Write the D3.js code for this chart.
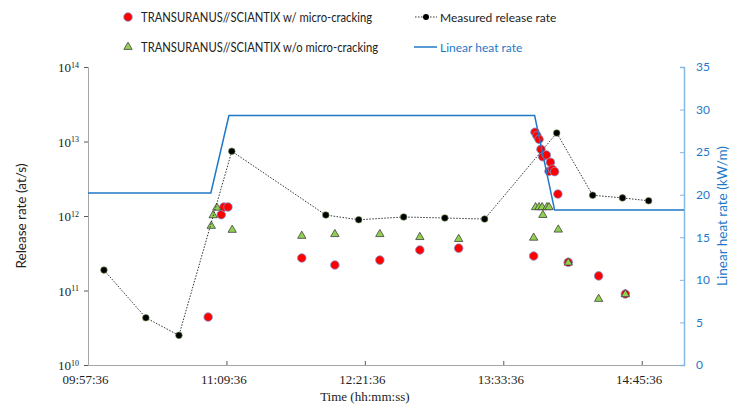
<!DOCTYPE html>
<html>
<head>
<meta charset="utf-8">
<script src="https://cdn.jsdelivr.net/npm/d3@7"></script>
<style>
body { margin: 0; background: #fff; }
svg { display: block; }
</style>
</head>
<body>
<script>
// measured release rate (black dots, dotted line)
var measTimes = ["10:05:54", "10:27:42", "10:44:54", "11:12:24", "12:01:18", "12:18:24", "12:41:48",
	"13:03:12", "13:23:54", "14:01:24", "14:20:06", "14:35:36", "14:49:12"];
var measRate = [1.88e11, 4.3e10, 2.5e10, 7.4e12, 1.03e12, 8.9e11, 9.7e11,
	9.4e11, 9.1e11, 1.3e13, 1.9e12, 1.75e12, 1.6e12];

// TRANSURANUS//SCIANTIX w/ micro-cracking
var crackTimes = ["11:00:06", "11:06:54", "11:08:18", "11:10:24", "11:48:48", "12:06:00", "12:29:24",
	"12:50:12", "13:10:24", "13:49:24", "13:50:06", "13:51:06", "13:52:12", "13:53:12", "13:54:06",
	"13:56:00", "13:58:06", "13:57:24", "13:59:06", "14:00:18", "14:02:00", "14:07:24", "14:23:12", "14:37:06"];
var crackRate = [4.4e10, 1.04e12, 1.32e12, 1.32e12, 2.73e11, 2.2e11, 2.56e11,
	3.5e11, 3.7e11, 2.9e11, 1.33e13, 1.2e13, 1.07e13, 7.85e12, 6.25e12,
	6.6e12, 5.26e12, 3.98e12, 4.24e12, 3.94e12, 1.97e12, 2.39e11, 1.57e11, 8.98e10];

// TRANSURANUS//SCIANTIX w/o micro-cracking
var noCrackTimes = ["11:01:42", "11:02:42", "11:04:36", "11:12:36", "11:48:48", "12:06:00", "12:29:24",
	"12:50:12", "13:10:24", "13:49:24", "13:50:24", "13:52:12", "13:53:48", "13:54:12", "13:56:18",
	"13:57:24", "14:02:12", "14:07:24", "14:23:12", "14:37:06"];
var noCrackRate = [7.35e11, 1.02e12, 1.29e12, 6.5e11, 5.4e11, 5.7e11, 5.7e11,
	5.2e11, 4.9e11, 5.1e11, 1.31e12, 1.31e12, 1.31e12, 1.03e12, 1.31e12,
	1.31e12, 6.55e11, 2.36e11, 7.7e10, 8.9e10];

// linear heat rate (kW/m)
var heatTimes = ["09:57:36", "11:01:30", "11:10:54", "13:49:54", "14:00:18", "15:07:36"];
var heatRate = [20.2, 20.2, 29.3, 29.3, 18.2, 18.2];

var xTicks = ["09:57:36", "11:09:36", "12:21:36", "13:33:36", "14:45:36"];
var yTicks = [1e10, 1e11, 1e12, 1e13, 1e14];
var y2Ticks = [0, 5, 10, 15, 20, 25, 30, 35];

var margin = {top: 67, right: 52, bottom: 43, left: 88},
	width = 736 - margin.left - margin.right,
	height = 408 - margin.top - margin.bottom;

var parseT = d3.timeParse("%H:%M:%S");
var fmtT = d3.timeFormat("%H:%M:%S");

var x = d3.scaleTime()
	.domain([parseT("09:57:36"), parseT("15:07:36")])
	.range([0, width]);
var y = d3.scaleLog().domain([1e10, 1e14]).range([height, 0]);
var y2 = d3.scaleLinear().domain([0, 35]).range([height, 0]);

var blue = "#1f78c8";
var serif = "'Liberation Serif', 'DejaVu Serif', serif";
var sans = "Lato, 'Open Sans', sans-serif";

var svg = d3.select("body").append("svg")
	.attr("width", 736)
	.attr("height", 408);

var g = svg.append("g")
	.attr("transform", "translate(" + margin.left + "," + margin.top + ")");

function zip(ts, vs) {
	return ts.map(function (t, i) { return {t: parseT(t), v: vs[i]}; });
}
var meas = zip(measTimes, measRate);
var crack = zip(crackTimes, crackRate);
var noCrack = zip(noCrackTimes, noCrackRate);
var heat = zip(heatTimes, heatRate);

// axes
var xAxis = g.append("g")
	.attr("transform", "translate(0," + height + ")")
	.call(d3.axisBottom(x)
		.tickValues(xTicks.map(parseT))
		.tickFormat(fmtT)
		.tickSizeInner(-4)
		.tickSizeOuter(0)
		.tickPadding(10));
xAxis.select(".domain").attr("stroke", "#a6a6a6");
xAxis.selectAll(".tick line").attr("stroke", "#595959");
xAxis.selectAll("text").attr("font-family", serif).attr("font-size", 13).attr("fill", "#222")
	.attr("dx", -3);

var yAxis = g.append("g")
	.call(d3.axisLeft(y)
		.tickValues(yTicks)
		.tickFormat("")
		.tickSizeInner(4)
		.tickSizeOuter(4)
		.tickPadding(8));
yAxis.select(".domain").attr("stroke", "#a6a6a6");
yAxis.selectAll(".tick line").attr("stroke", "#595959");
yAxis.selectAll(".tick").append("text")
	.attr("x", -9)
	.attr("dy", "0.35em")
	.attr("text-anchor", "end")
	.attr("font-family", serif)
	.attr("font-size", 13)
	.attr("fill", "#222")
	.each(function (d) {
		var t = d3.select(this);
		t.append("tspan").text("10");
		t.append("tspan")
			.attr("dy", "-0.55em")
			.attr("font-size", 8)
			.text(Math.round(Math.log10(d)));
	});

var y2Axis = g.append("g")
	.attr("transform", "translate(" + width + ",0)")
	.call(d3.axisRight(y2)
		.tickValues(y2Ticks)
		.tickSizeInner(-4)
		.tickSizeOuter(-4)
		.tickPadding(12));
y2Axis.select(".domain").attr("stroke", "#86b7e3").attr("stroke-width", 1.5);
y2Axis.selectAll(".tick line").attr("stroke", "#86b7e3");
y2Axis.selectAll("text").attr("font-family", sans).attr("font-size", 12).attr("fill", blue);

// axis titles
svg.append("text")
	.attr("transform", "translate(26,216) rotate(-90)")
	.attr("text-anchor", "middle")
	.attr("font-family", sans)
	.attr("font-size", 13.5)
	.attr("fill", "#222")
	.text("Release rate (at/s)");

svg.append("text")
	.attr("transform", "translate(727,216) rotate(-90)")
	.attr("text-anchor", "middle")
	.attr("font-family", sans)
	.attr("font-size", 13.5)
	.attr("fill", blue)
	.text("Linear heat rate (kW/m)");

svg.append("text")
	.attr("x", margin.left + x(parseT("12:21:36")))
	.attr("y", 401)
	.attr("text-anchor", "middle")
	.attr("font-family", serif)
	.attr("font-size", 13)
	.attr("fill", "#222")
	.text("Time (hh:mm:ss)");

// red circles: w/ micro-cracking
g.append("g").selectAll("circle")
	.data(crack)
	.enter().append("circle")
	.attr("cx", function (d) { return x(d.t); })
	.attr("cy", function (d) { return y(d.v); })
	.attr("r", 4.3)
	.attr("fill", "#ff0000")
	.attr("stroke", "#8096d0")
	.attr("stroke-width", 0.8);

// green triangles: w/o micro-cracking
var tri = d3.symbol().type(d3.symbolTriangle).size(30);
g.append("g").selectAll("path")
	.data(noCrack)
	.enter().append("path")
	.attr("d", tri)
	.attr("transform", function (d) { return "translate(" + x(d.t) + "," + y(d.v) + ")"; })
	.attr("fill", "#92d050")
	.attr("stroke", "#404040")
	.attr("stroke-width", 0.8);

// measured line + dots
var measLine = d3.line()
	.x(function (d) { return x(d.t); })
	.y(function (d) { return y(d.v); });

g.append("path")
	.datum(meas)
	.attr("d", measLine)
	.attr("fill", "none")
	.attr("stroke", "#333")
	.attr("stroke-width", 1)
	.attr("stroke-dasharray", "1.5,1.5");

g.append("g").selectAll("circle")
	.data(meas)
	.enter().append("circle")
	.attr("cx", function (d) { return x(d.t); })
	.attr("cy", function (d) { return y(d.v); })
	.attr("r", 3.3)
	.attr("fill", "#000")
	.attr("stroke", "#6a8f4a")
	.attr("stroke-width", 0.6);

// heat rate line
var heatLine = d3.line()
	.x(function (d) { return x(d.t); })
	.y(function (d) { return y2(d.v); });

g.append("path")
	.datum(heat)
	.attr("d", heatLine)
	.attr("fill", "none")
	.attr("stroke", blue)
	.attr("stroke-width", 1.5);

// legend
var leg = svg.append("g").attr("font-family", sans).attr("font-size", 12.5);

leg.append("circle").attr("cx", 128).attr("cy", 17).attr("r", 4.3)
	.attr("fill", "#ff0000").attr("stroke", "#8096d0").attr("stroke-width", 0.8);
leg.append("text").attr("x", 141).attr("y", 21.5).attr("fill", "#222")
	.attr("textLength", 231).attr("lengthAdjust", "spacingAndGlyphs")
	.text("TRANSURANUS//SCIANTIX w/ micro-cracking");

leg.append("path").attr("d", tri).attr("transform", "translate(128,47)")
	.attr("fill", "#92d050").attr("stroke", "#404040").attr("stroke-width", 0.8);
leg.append("text").attr("x", 141).attr("y", 51.5).attr("fill", "#222")
	.attr("textLength", 237).attr("lengthAdjust", "spacingAndGlyphs")
	.text("TRANSURANUS//SCIANTIX w/o micro-cracking");

leg.append("line").attr("x1", 415).attr("x2", 437).attr("y1", 17).attr("y2", 17)
	.attr("stroke", "#333").attr("stroke-dasharray", "1.5,1.5");
leg.append("circle").attr("cx", 426).attr("cy", 17).attr("r", 3)
	.attr("fill", "#000");
leg.append("text").attr("x", 440).attr("y", 21.5).attr("fill", "#222").attr("font-size", 12)
	.text("Measured release rate");

leg.append("line").attr("x1", 414).attr("x2", 437).attr("y1", 47).attr("y2", 47)
	.attr("stroke", blue).attr("stroke-width", 1.5);
leg.append("text").attr("x", 440).attr("y", 51.5).attr("fill", blue).attr("font-size", 12)
	.text("Linear heat rate");
</script>
</body>
</html>
